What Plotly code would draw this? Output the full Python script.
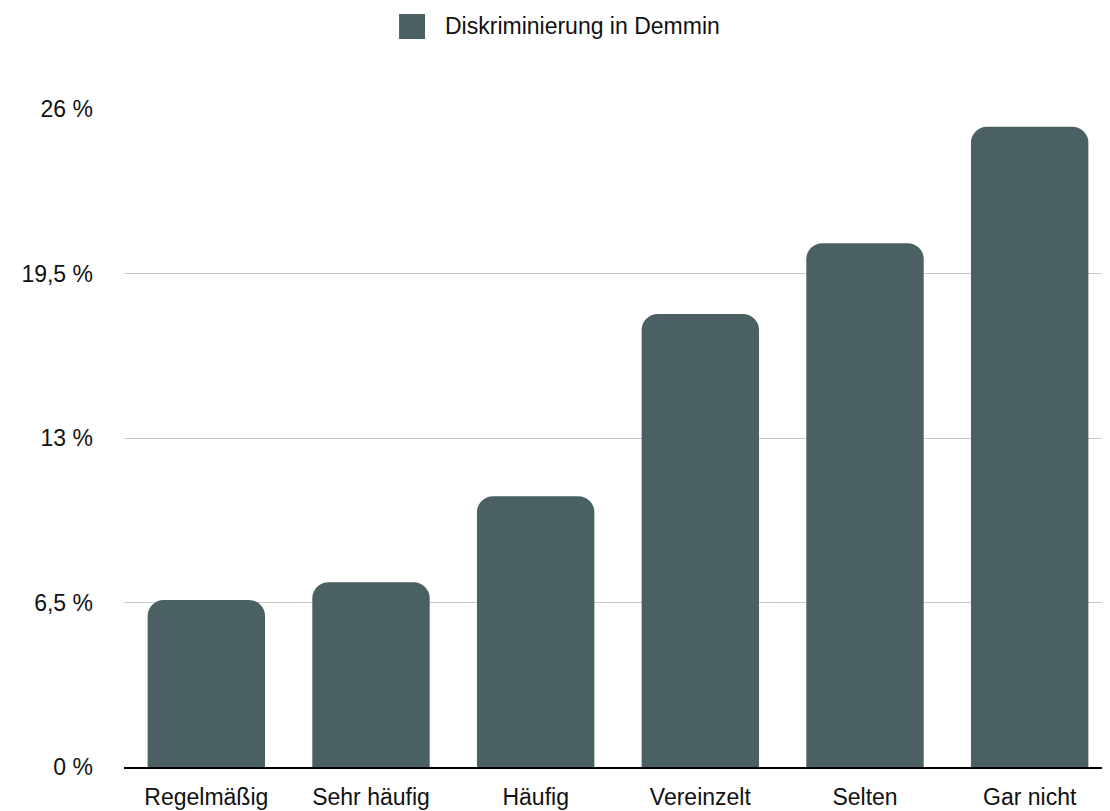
import plotly.graph_objects as go

categories = ["Regelmäßig", "Sehr häufig", "Häufig", "Vereinzelt", "Selten", "Gar nicht"]
values = [6.6, 7.3, 10.7, 17.9, 20.7, 25.3]
tick_vals = [0, 6.5, 13, 19.5, 26]
tick_text = ["0 %", "6,5 %", "13 %", "19,5 %", "26 %"]
series_name = "Diskriminierung in Demmin"

bar_color = "#4a6063"
font_family = "Liberation Sans, Arial, Helvetica, sans-serif"

fig = go.Figure()
fig.add_trace(go.Bar(x=categories, y=values, name=series_name,
                     marker=dict(color=bar_color, line=dict(width=0)),
                     showlegend=False))

fig.update_yaxes(range=[0, 26], tickvals=tick_vals, ticktext=tick_text,
                 showgrid=True, gridcolor="#c8c8c8", gridwidth=1,
                 zeroline=False, ticks="", ticklabelstandoff=30,
                 tickfont=dict(size=23, color="#111", family=font_family))
fig.update_xaxes(showline=True, linecolor="black", linewidth=2,
                 ticks="", ticklabelstandoff=8,
                 tickfont=dict(size=23, color="#111", family=font_family))

# legend drawn as square + label at the top
fig.add_shape(type="rect", xref="paper", yref="paper",
              x0=0.2784, x1=0.3047, y0=1.1064, y1=1.1444,
              fillcolor=bar_color, line=dict(width=0))
fig.add_annotation(text=series_name, xref="paper", yref="paper",
                   x=0.3229, y=1.1254, xanchor="left", yanchor="middle",
                   showarrow=False, font=dict(size=23, color="#111", family=font_family))

fig.update_layout(
    width=1110, height=811,
    plot_bgcolor="white", paper_bgcolor="white",
    font=dict(family=font_family, size=23, color="#111"),
    bargap=0.287,
    barcornerradius=16,
    margin=dict(l=116, r=6, t=101, b=52),
    showlegend=False,
)

fig.write_html("out.html")
